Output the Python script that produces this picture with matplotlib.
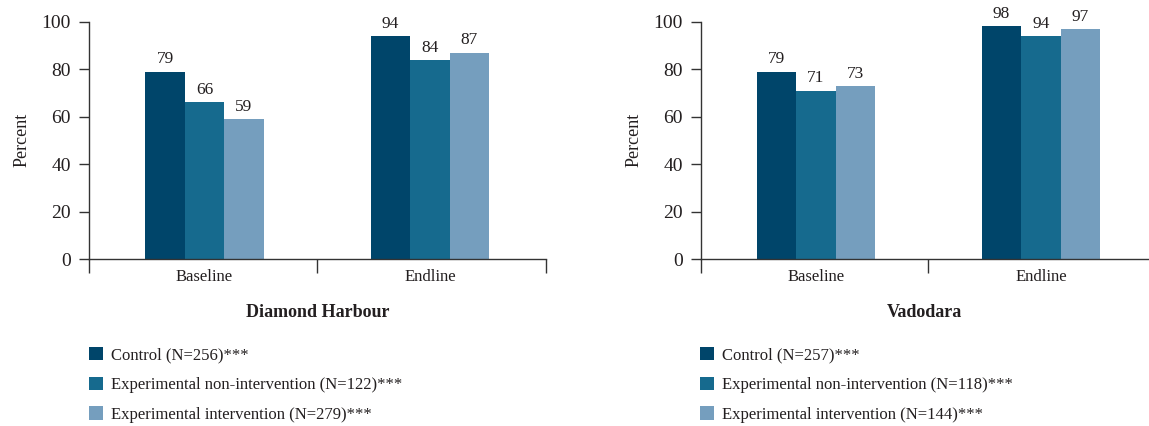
import numpy as np
import matplotlib
matplotlib.use("Agg")
from matplotlib import pyplot as plt
from matplotlib.ticker import FixedLocator

# data
periods = ["Baseline", "Endline"]
sites = ["Diamond Harbour", "Vadodara"]
groups = ["Control", "Experimental non-intervention", "Experimental intervention"]

dh_values = {"Control": [79, 94],
             "Experimental non-intervention": [66, 84],
             "Experimental intervention": [59, 87]}
vad_values = {"Control": [79, 98],
              "Experimental non-intervention": [71, 94],
              "Experimental intervention": [73, 97]}
dh_n = [256, 122, 279]
vad_n = [257, 118, 144]

colors = ["#00456A", "#166A8E", "#759EBE"]
txt = "#231f20"

plt.rcParams['font.family'] = ['Liberation Serif', 'DejaVu Serif']
plt.rcParams['text.color'] = txt
plt.rcParams['axes.labelcolor'] = txt
plt.rcParams['xtick.color'] = "#333333"
plt.rcParams['ytick.color'] = "#333333"

fig = plt.figure(figsize=(11.49, 4.26), dpi=100)
W, H = 1149.0, 426.0

def make_panel(left_px, right_px, xlim, xticks_minor, values, ns, title):
    ax = fig.add_axes([left_px / W, 1 - 259 / H, (right_px - left_px) / W, (259 - 21.7) / H])
    x = np.arange(len(periods))
    bw = 0.175
    for i, g in enumerate(groups):
        ax.bar(x + (i - 1) * bw, values[g], bw, color=colors[i],
               label="%s (N=%d)***" % (g, ns[i]), zorder=2)
        for xi, v in zip(x + (i - 1) * bw, values[g]):
            ax.annotate(str(v), (xi, v), xytext=(0, 3), textcoords="offset points",
                        ha="center", va="bottom", fontsize=12.5, color=txt)
    ax.set_ylim(0, 100)
    ax.set_xlim(*xlim)
    ax.set_yticks([0, 20, 40, 60, 80, 100])
    ax.tick_params(axis="y", length=7, width=1, labelsize=14, labelcolor=txt, pad=6)
    ax.set_xticks(x)
    ax.set_xticklabels(periods)
    ax.tick_params(axis="x", which="major", length=0, labelsize=12, labelcolor=txt, pad=7)
    ax.xaxis.set_minor_locator(FixedLocator(xticks_minor))
    ax.tick_params(axis="x", which="minor", length=10, width=1, direction="out")
    for s in ["top", "right"]:
        ax.spines[s].set_visible(False)
    for s in ["left", "bottom"]:
        ax.spines[s].set_linewidth(1)
        ax.spines[s].set_color("#333333")
    ax.set_ylabel("Percent", fontsize=13, labelpad=8)
    ax.set_xlabel(title, fontsize=13, fontweight="bold", labelpad=14)
    return ax

ax1 = make_panel(89, 545.7, (-0.512, 1.513), [-0.512, 0.5, 1.513], dh_values, dh_n, sites[0])
ax2 = make_panel(700.7, 1149, (-0.512, 1.48), [-0.512, 0.5], vad_values, vad_n, sites[1])

for ax, lx in [(ax1, 89), (ax2, 700)]:
    h, l = ax.get_legend_handles_labels()
    fig.legend(h, l, loc="upper left", bbox_to_anchor=(lx / W, 1 - 347 / H),
               frameon=False, fontsize=12, handlelength=0.85, handleheight=0.85,
               handletextpad=0.5, labelspacing=0.8, borderpad=0, borderaxespad=0)

fig.savefig("out.png", dpi=100)
